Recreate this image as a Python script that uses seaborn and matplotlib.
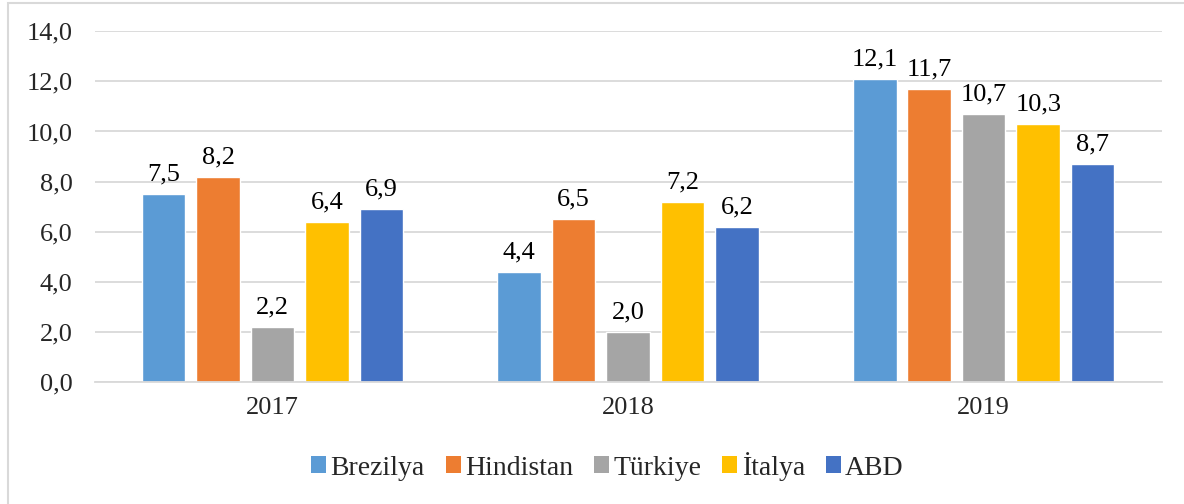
import pandas as pd
import seaborn as sns
import matplotlib.pyplot as plt
from matplotlib.patches import Rectangle, Patch

# Data
years = ["2017", "2018", "2019"]
countries = ["Brezilya", "Hindistan", "Türkiye", "İtalya", "ABD"]
brezilya = [7.5, 4.4, 12.1]
hindistan = [8.2, 6.5, 11.7]
turkiye = [2.2, 2.0, 10.7]
italya = [6.4, 7.2, 10.3]
abd = [6.9, 6.2, 8.7]
colors = ["#5B9BD5", "#ED7D31", "#A5A5A5", "#FFC000", "#4472C4"]

series = [brezilya, hindistan, turkiye, italya, abd]
rows = []
for c, vals in zip(countries, series):
    for y, v in zip(years, vals):
        rows.append({"Yil": y, "Ulke": c, "Deger": v})
df = pd.DataFrame(rows)

sns.set_theme(style="white")
plt.rcParams['font.family'] = ['Liberation Serif', 'DejaVu Serif']

fig = plt.figure(figsize=(11.84, 5.04), dpi=100)
ax = fig.add_axes([0.080, 0.242, 0.901, 0.696])

sns.barplot(data=df, x="Yil", y="Deger", hue="Ulke", hue_order=countries,
            palette=colors, width=0.766, gap=0.2, saturation=1,
            errorbar=None, ax=ax, legend=False)

for cont in ax.containers:
    ax.bar_label(cont, labels=[f"{b.get_height():.1f}".replace(".", ",") for b in cont],
                 padding=6, fontsize=19, color="#000000")

ax.set_ylim(0, 14)
ax.set_yticks(range(0, 15, 2))
ax.set_yticklabels([f"{v:.1f}".replace(".", ",") for v in range(0, 15, 2)], fontsize=19)
ax.tick_params(axis="x", labelsize=19, pad=11, length=0)
ax.tick_params(axis="y", pad=16, length=0)
ax.set_xlabel("")
ax.set_ylabel("")
ax.set_xlim(-0.5, 2.5)

ax.yaxis.grid(True, color="#D9D9D9", linewidth=1.3)
ax.set_axisbelow(True)
for side in ["left", "right", "top"]:
    ax.spines[side].set_visible(False)
ax.spines["bottom"].set_color("#D9D9D9")
ax.spines["bottom"].set_linewidth(1.3)

handles = [Patch(facecolor=c, edgecolor="none") for c in colors]
fig.legend(handles, countries, loc="center", bbox_to_anchor=(0.513, 0.075),
           ncol=5, frameon=False, fontsize=20, handlelength=0.55, handleheight=0.55,
           handletextpad=0.15, columnspacing=0.75)

# Chart border
fig.patches.append(Rectangle((8 / 1184, -0.1), 1.2, 1 - 3 / 504 + 0.1,
                             transform=fig.transFigure, fill=False,
                             edgecolor="#D9D9D9", linewidth=1.5))

fig.savefig("out.png", dpi=100)
